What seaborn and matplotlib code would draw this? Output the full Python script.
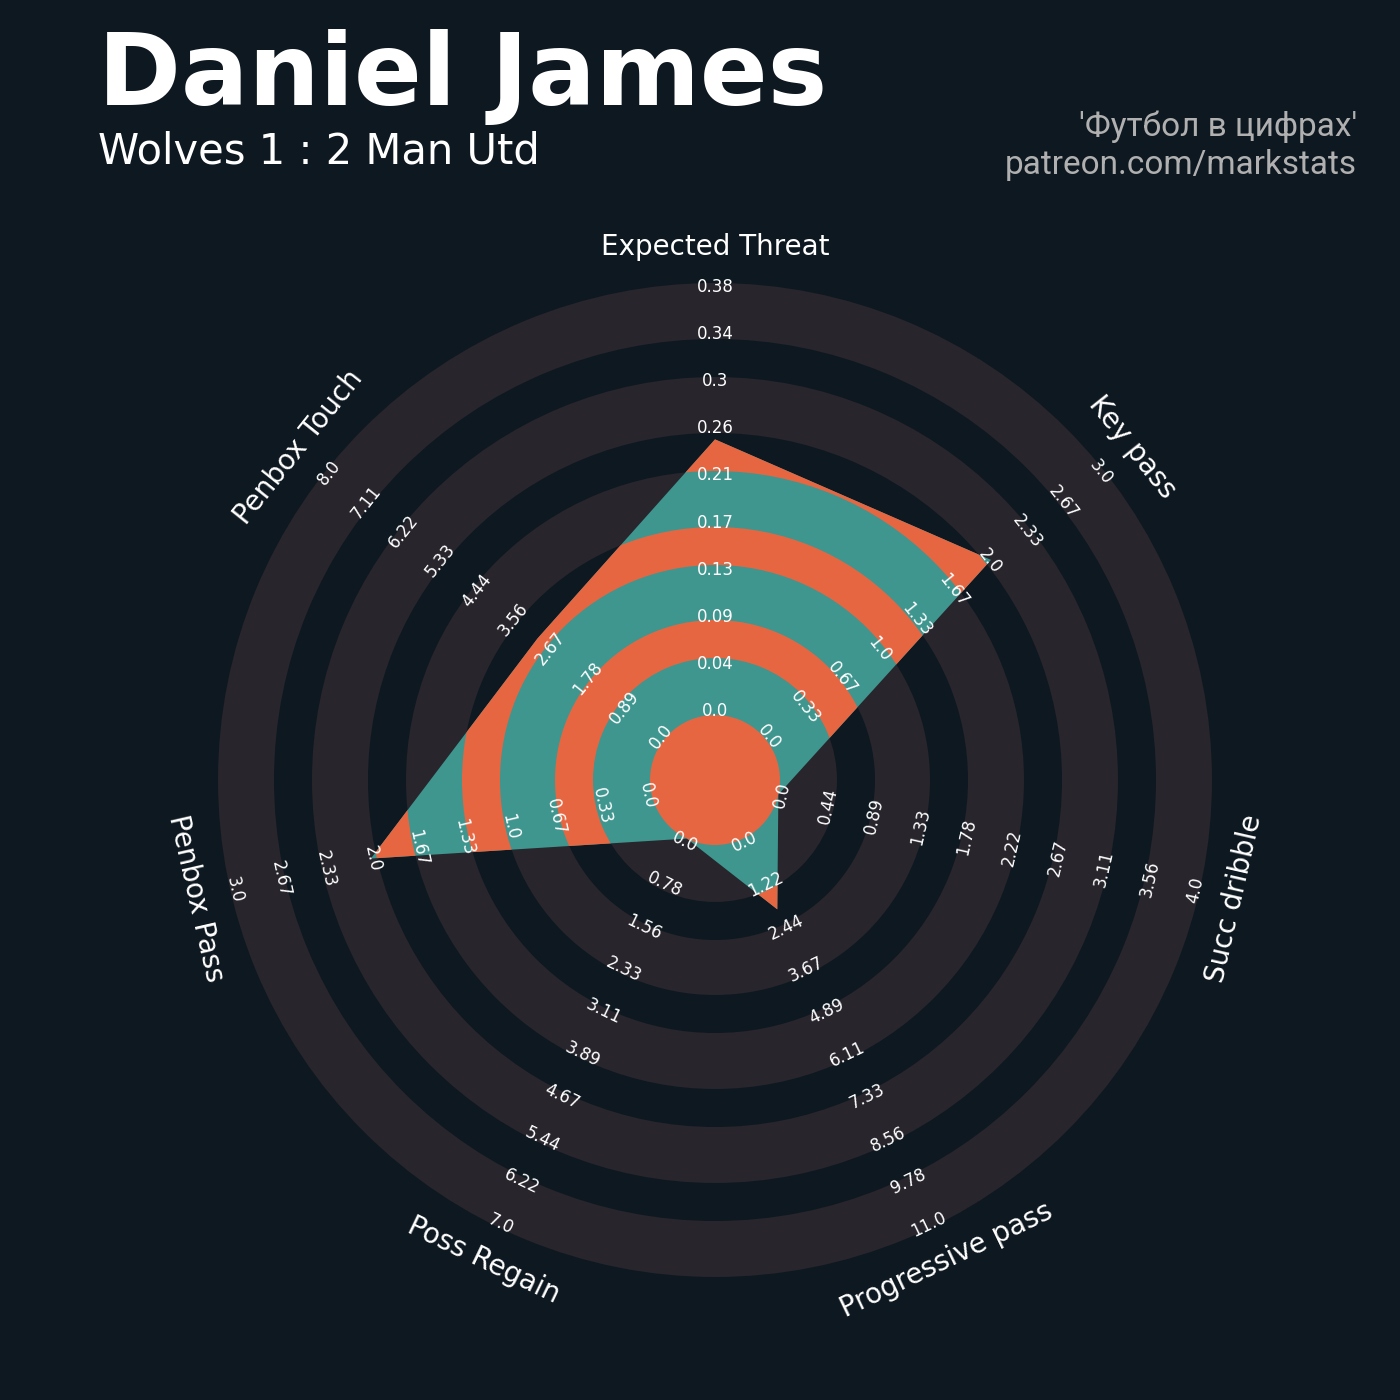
import numpy as np
import matplotlib.pyplot as plt
from matplotlib.patches import Wedge, Polygon
import seaborn as sns

# player radar values
params = ['Expected Threat', 'Key pass', 'Succ dribble', 'Progressive pass',
          'Poss Regain', 'Penbox Pass', 'Penbox Touch']
values = [0.245, 2, 0, 2, 0, 2, 3]
lows = [0, 0, 0, 0, 0, 0, 0]
highs = [0.384, 3, 4, 11, 7, 3, 8]
range_labels = [
    ['0.0', '0.04', '0.09', '0.13', '0.17', '0.21', '0.26', '0.3', '0.34', '0.38'],
    ['0.0', '0.33', '0.67', '1.0', '1.33', '1.67', '2.0', '2.33', '2.67', '3.0'],
    ['0.0', '0.44', '0.89', '1.33', '1.78', '2.22', '2.67', '3.11', '3.56', '4.0'],
    ['0.0', '1.22', '2.44', '3.67', '4.89', '6.11', '7.33', '8.56', '9.78', '11.0'],
    ['0.0', '0.78', '1.56', '2.33', '3.11', '3.89', '4.67', '5.44', '6.22', '7.0'],
    ['0.0', '0.33', '0.67', '1.0', '1.33', '1.67', '2.0', '2.33', '2.67', '3.0'],
    ['0.0', '0.89', '1.78', '2.67', '3.56', '4.44', '5.33', '6.22', '7.11', '8.0'],
]
title = 'Daniel James'
subtitle = 'Wolves 1 : 2 Man Utd'
credits = ["'Футбол в цифрах'", 'patreon.com/markstats']

BG = '#0e1820'
RING = '#28252c'
ORANGE = '#e76642'
TEAL = '#3e968f'

sns.set_theme(style='dark', rc={'figure.facecolor': BG, 'axes.facecolor': BG})
plt.rcParams['font.family'] = ['DejaVu Sans']

fig = plt.figure(figsize=(14, 14), dpi=100)
ax = fig.add_axes([0, 0, 1, 1])
ax.set_xlim(-715, 685)
ax.set_ylim(-620, 780)
ax.set_aspect('equal')
ax.axis('off')

# ring boundaries (inner disk, then alternating grey / dark bands)
bounds = [65, 122, 160, 215, 253, 309, 347, 403, 441, 497]
r_in, r_out = bounds[0], bounds[-1]

for i in range(0, len(bounds) - 1, 2):
    ax.add_patch(Wedge((0, 0), bounds[i + 1], 0, 360,
                       width=bounds[i + 1] - bounds[i], fc=RING, ec='none', zorder=1))

n = len(params)
angles = np.deg2rad(90 - np.arange(n) * 360 / n)

# polygon from data
scaled = [(v - lo) / (hi - lo) for v, lo, hi in zip(values, lows, highs)]
radii = r_in + np.array(scaled) * (r_out - r_in)
pts = np.column_stack([radii * np.cos(angles), radii * np.sin(angles)])
poly = Polygon(pts, closed=True, fc=TEAL, ec='none', zorder=2)
ax.add_patch(poly)

# orange bands inside the polygon
orange_bands = [(0, bounds[0])] + [(bounds[i], bounds[i + 1]) for i in range(1, len(bounds) - 1, 2)]
for a, b in orange_bands:
    w = Wedge((0, 0), b, 0, 360, width=(b - a) if a > 0 else None,
              fc=ORANGE, ec='none', zorder=3)
    ax.add_patch(w)
    w.set_clip_path(poly)


def text_rot(ang_deg):
    return ((ang_deg - 90 + 90) % 180) - 90


# range labels
lab_r = np.linspace(69, 493, 10)
for k, ang in enumerate(angles):
    rot = text_rot(np.rad2deg(ang))
    for j, lab in enumerate(range_labels[k]):
        ax.text(lab_r[j] * np.cos(ang), lab_r[j] * np.sin(ang), lab,
                fontsize=12, color='white', ha='center', va='center',
                rotation=rot, rotation_mode='anchor', zorder=5)
    ax.text(533 * np.cos(ang), 533 * np.sin(ang), params[k],
            fontsize=20, color='white', ha='center', va='center',
            rotation=rot, rotation_mode='anchor', zorder=5)

fig.text(0.07, 1 - 105 / 1400, title, fontsize=72, fontweight='bold',
         color='white', va='baseline')
fig.text(0.07, 1 - 163 / 1400, subtitle, fontsize=30, color='white', va='baseline')
fig.text(1357 / 1400, 1 - 136 / 1400, credits[0], fontsize=24, family=['Roboto', 'DejaVu Sans'],
         color='#b0b0b0', ha='right', va='baseline')
fig.text(1357 / 1400, 1 - 174 / 1400, credits[1], fontsize=24, family=['Roboto', 'DejaVu Sans'],
         color='#b0b0b0', ha='right', va='baseline')

fig.savefig('out.png', dpi=100, facecolor=BG)
